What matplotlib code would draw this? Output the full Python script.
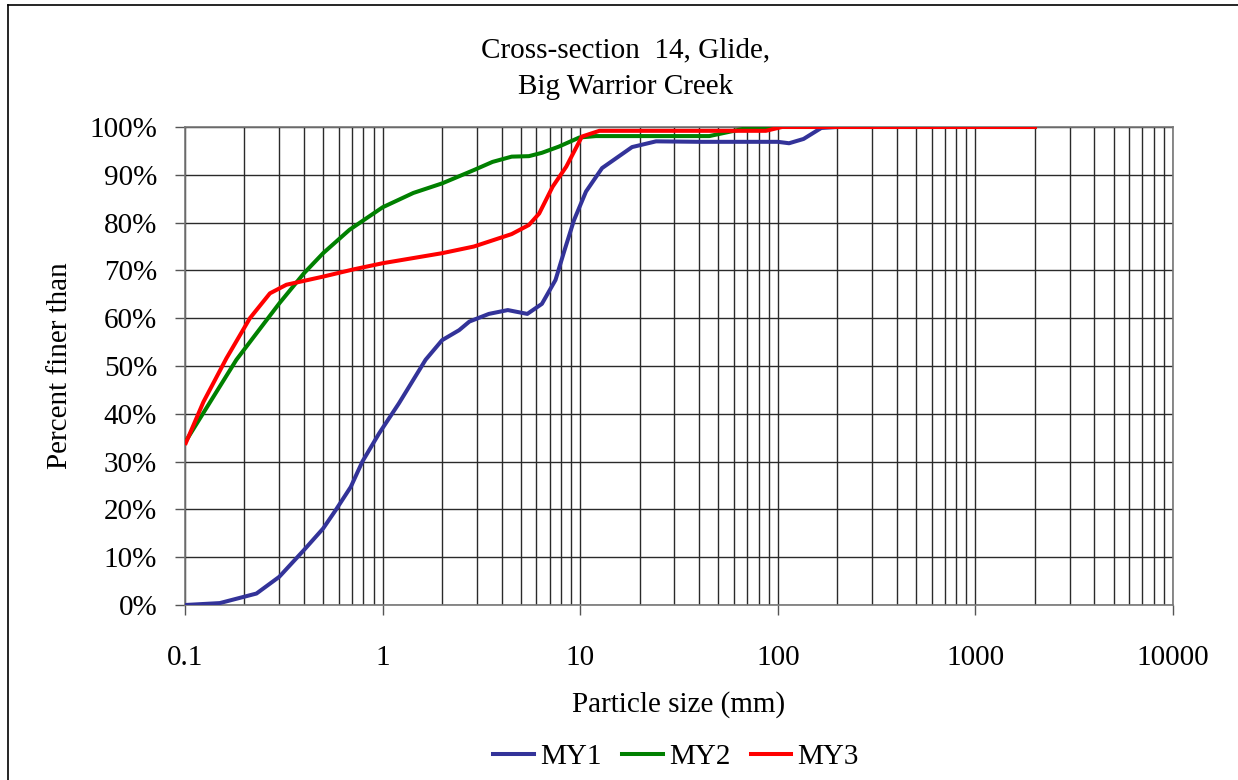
import matplotlib
matplotlib.use("Agg")
import matplotlib.pyplot as plt
from matplotlib.ticker import FixedLocator, NullFormatter, FuncFormatter
from matplotlib.lines import Line2D

plt.rcParams['font.family'] = ['Liberation Serif', 'DejaVu Serif']

title_lines = ["Cross-section  14, Glide,", "Big Warrior Creek"]
xlabel = "Particle size (mm)"
ylabel = "Percent finer than"

my1_x = [0.1, 0.15, 0.23, 0.3, 0.4, 0.5, 0.58, 0.69, 0.79, 0.96, 1.21, 1.65, 2.0, 2.44, 2.75, 3.45,
         4.3, 5.4, 6.4, 7.5, 8.3, 9.3, 10.7, 12.9, 18.3, 24.2, 40, 100, 114, 135, 166, 200, 2048]
my1_y = [0, 0.4, 2.4, 5.9, 11.5, 16, 19.9, 24.7, 30, 35.9, 42.2, 51.3, 55.4, 57.5, 59.3, 60.9,
         61.7, 60.9, 63, 68, 74, 80.5, 86.5, 91.4, 95.8, 97, 96.9, 96.9, 96.6, 97.5, 99.8, 100, 100]

my2_x = [0.1, 0.182, 0.3, 0.4, 0.5, 0.68, 1.0, 1.43, 2.0, 2.9, 3.6, 4.5, 5.5, 6.4, 7.8, 9.9, 12,
         45, 74, 2048]
my2_y = [34, 51.3, 63.1, 69.4, 73.6, 78.5, 83.2, 86.2, 88.2, 91, 92.7, 93.8, 93.9, 94.6, 95.9,
         97.8, 98.1, 98.1, 100, 100]

my3_x = [0.1, 0.124, 0.162, 0.213, 0.269, 0.326, 0.5, 0.71, 1.0, 2.0, 2.9, 4.5, 5.5, 6.2, 7.25,
         8.5, 10.2, 12.5, 87, 105, 2048]
my3_y = [33.5, 42.5, 51.6, 60, 65.2, 67, 68.7, 70.2, 71.5, 73.6, 75, 77.6, 79.5, 81.9, 87.5,
         91.7, 98, 99.2, 99.2, 100, 100]

series = [("MY1", my1_x, my1_y, "#333399"),
          ("MY2", my2_x, my2_y, "#008000"),
          ("MY3", my3_x, my3_y, "#FF0000")]

FS = 21
W, H = 1238, 780
fig = plt.figure(figsize=(W / 100, H / 100), dpi=100)
L, R, T, B = 185, 1173, 127, 605
ax = fig.add_axes([L / W, 1 - B / H, (R - L) / W, (B - T) / H])

ax.set_xscale('log')
ax.set_xlim(0.1, 10000)
ax.set_ylim(0, 100)

for name, xs, ys, c in series:
    ax.plot(xs, ys, color=c, lw=2.9, solid_joinstyle='round', solid_capstyle='butt',
            label=name, zorder=3)

major = [0.1, 1, 10, 100, 1000, 10000]
minor = [m * d for d in [0.1, 1, 10, 100, 1000] for m in range(2, 10)]
ax.xaxis.set_major_locator(FixedLocator(major))
ax.xaxis.set_minor_locator(FixedLocator(minor))
ax.xaxis.set_minor_formatter(NullFormatter())
ax.xaxis.set_major_formatter(FuncFormatter(lambda v, p: ("%g" % v)))
ax.yaxis.set_major_locator(FixedLocator(range(0, 101, 10)))
ax.yaxis.set_major_formatter(FuncFormatter(lambda v, p: "%d%%" % v))

ax.grid(True, which='both', axis='x', color='#2a2a2a', lw=1.0)
ax.grid(True, which='major', axis='y', color='#2a2a2a', lw=1.0)
ax.tick_params(axis='x', which='major', direction='out', length=7, width=1, color='#555555',
               labelsize=FS, pad=22)
ax.tick_params(axis='x', which='minor', length=0)
ax.tick_params(axis='y', which='major', direction='out', length=7, width=1, color='#555555',
               labelsize=FS, pad=13)
for s in ['left', 'bottom', 'top', 'right']:
    ax.spines[s].set_color('#777777')
    ax.spines[s].set_linewidth(1.2)

cx = 626 / W
fig.text(cx, 1 - 50 / H, title_lines[0], ha='center', va='center', fontsize=FS)
fig.text(cx, 1 - 87 / H, title_lines[1], ha='center', va='center', fontsize=FS)
fig.text(679 / W, 1 - 705 / H, xlabel, ha='center', va='center', fontsize=FS)
fig.text(60 / W, 1 - 366 / H, ylabel, ha='center', va='center', fontsize=FS, rotation=90)

handles = [Line2D([0], [0], color=c, lw=2.9) for _, _, _, c in series]
leg = fig.legend(handles, [s[0] for s in series], loc='center', bbox_to_anchor=(676 / W, 1 - 757 / H),
                 ncol=3, frameon=False, fontsize=FS, handlelength=1.4, handletextpad=0.2,
                 columnspacing=0.7)

# outer frame (left and top edges visible)
fig.add_artist(Line2D([8 / W, 8 / W], [0, 1 - 5 / H], transform=fig.transFigure, color='black', lw=1.2))
fig.add_artist(Line2D([8 / W, 1], [1 - 5 / H, 1 - 5 / H], transform=fig.transFigure, color='black', lw=1.2))

fig.savefig("out.png", dpi=100)
